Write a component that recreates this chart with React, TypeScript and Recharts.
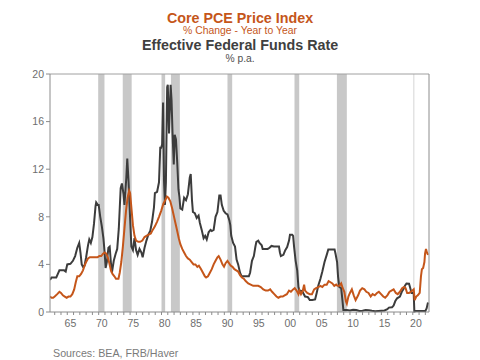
import { LineChart, Line, XAxis, YAxis, ReferenceArea, ReferenceLine } from 'recharts';

// x domain in decimal years (monthly obs sit at year + month/12)
const X_MIN = 1962.25;
const X_MAX = 2022.58;

// Effective Federal Funds Rate, % p.a. [year, value]
const fedFunds: [number, number][] = [
  [1962.25, 2.7], [1962.5, 2.9], [1962.75, 2.9], [1963.0, 2.9], [1963.25, 2.9], [1963.5, 3.2],
  [1963.75, 3.5], [1964.0, 3.5], [1964.5, 3.5], [1964.75, 3.4], [1965.0, 4.0], [1965.5, 4.05],
  [1965.9, 4.3], [1966.25, 4.7], [1966.6, 5.4], [1966.9, 5.8], [1967.1, 5.0], [1967.3, 4.0],
  [1967.5, 3.8], [1967.75, 3.9], [1968.0, 4.6], [1968.3, 5.6], [1968.5, 6.1], [1968.75, 5.8],
  [1969.0, 6.3], [1969.25, 7.4], [1969.5, 8.9], [1969.6, 9.2], [1969.85, 9.0], [1970.0, 9.0],
  [1970.25, 8.0], [1970.5, 7.2], [1970.75, 6.2], [1970.95, 5.0], [1971.1, 3.7], [1971.3, 4.2],
  [1971.55, 5.4], [1971.75, 5.5], [1971.95, 4.1], [1972.1, 3.3], [1972.4, 4.3], [1972.7, 4.9],
  [1972.95, 5.3], [1973.2, 7.0], [1973.5, 10.4], [1973.7, 10.8], [1973.95, 9.9], [1974.1, 9.0],
  [1974.4, 11.3], [1974.55, 12.9], [1974.75, 11.0], [1974.95, 8.5], [1975.2, 5.5], [1975.45, 5.2],
  [1975.7, 6.2], [1975.95, 5.2], [1976.2, 4.8], [1976.5, 5.3], [1976.8, 5.0], [1977.0, 4.6],
  [1977.3, 5.4], [1977.6, 6.0], [1977.9, 6.5], [1978.2, 6.8], [1978.5, 7.6], [1978.8, 8.8],
  [1978.95, 10.0], [1979.3, 10.1], [1979.6, 10.9], [1979.8, 13.8], [1979.95, 13.8], [1980.1, 14.1],
  [1980.25, 17.6], [1980.4, 11.0], [1980.55, 9.0], [1980.7, 10.9], [1980.9, 18.9], [1981.0, 19.1],
  [1981.2, 15.0], [1981.45, 19.1], [1981.6, 17.8], [1981.75, 15.1], [1981.95, 12.4], [1982.1, 14.9],
  [1982.3, 14.5], [1982.5, 12.6], [1982.7, 10.3], [1982.85, 9.7], [1983.0, 8.7], [1983.3, 8.6],
  [1983.6, 9.6], [1983.9, 9.4], [1984.2, 9.9], [1984.5, 11.3], [1984.65, 11.6], [1984.85, 9.4],
  [1985.0, 8.4], [1985.3, 8.3], [1985.6, 7.9], [1985.9, 8.1], [1986.1, 7.5], [1986.4, 6.9],
  [1986.7, 6.2], [1986.95, 6.4], [1987.2, 6.1], [1987.5, 6.7], [1987.8, 6.9], [1988.0, 6.8],
  [1988.3, 6.9], [1988.6, 8.0], [1988.9, 8.4], [1989.2, 9.8], [1989.4, 9.8], [1989.6, 9.0],
  [1989.9, 8.5], [1990.2, 8.3], [1990.5, 8.2], [1990.8, 7.7], [1990.95, 7.3], [1991.1, 6.4],
  [1991.4, 5.8], [1991.7, 5.5], [1991.95, 4.4], [1992.2, 4.0], [1992.5, 3.3], [1992.75, 3.0],
  [1993.0, 3.0], [1993.5, 3.0], [1993.9, 3.0], [1994.1, 3.3], [1994.4, 4.3], [1994.7, 4.7],
  [1994.95, 5.5], [1995.1, 5.9], [1995.4, 6.0], [1995.6, 5.8], [1995.95, 5.6], [1996.1, 5.3],
  [1996.5, 5.3], [1996.9, 5.3], [1997.2, 5.4], [1997.5, 5.55], [1997.9, 5.5], [1998.3, 5.5],
  [1998.7, 5.5], [1998.85, 5.0], [1999.0, 4.7], [1999.4, 4.8], [1999.7, 5.2], [2000.0, 5.45],
  [2000.3, 6.0], [2000.45, 6.5], [2000.8, 6.5], [2000.95, 6.4], [2001.1, 5.5], [2001.35, 4.3],
  [2001.6, 3.5], [2001.8, 2.1], [2001.95, 1.8], [2002.4, 1.75], [2002.85, 1.3], [2003.3, 1.25],
  [2003.6, 1.0], [2004.0, 1.0], [2004.45, 1.05], [2004.7, 1.6], [2004.95, 2.2], [2005.3, 2.8],
  [2005.6, 3.4], [2005.95, 4.2], [2006.3, 4.8], [2006.55, 5.25], [2007.0, 5.25], [2007.55, 5.25],
  [2007.7, 4.9], [2007.95, 4.2], [2008.1, 3.0], [2008.3, 2.1], [2008.6, 2.0], [2008.8, 1.0],
  [2008.95, 0.16], [2009.5, 0.16], [2010.0, 0.12], [2010.5, 0.18], [2011.0, 0.17], [2011.5, 0.08],
  [2012.0, 0.1], [2012.5, 0.16], [2013.0, 0.14], [2013.5, 0.1], [2014.0, 0.07], [2014.5, 0.09],
  [2015.0, 0.11], [2015.5, 0.13], [2015.95, 0.24], [2016.2, 0.37], [2016.7, 0.4], [2016.95, 0.54],
  [2017.2, 0.9], [2017.5, 1.15], [2017.95, 1.3], [2018.25, 1.7], [2018.5, 1.9], [2018.75, 2.2],
  [2019.0, 2.4], [2019.4, 2.38], [2019.55, 2.1], [2019.8, 1.6], [2020.05, 1.6], [2020.15, 1.5],
  [2020.25, 0.05], [2020.5, 0.09], [2021.0, 0.09], [2021.5, 0.08], [2022.0, 0.08], [2022.2, 0.3],
  [2022.42, 0.8],
];

// Core PCE price index, % change year to year [year, value]
const corePce: [number, number][] = [
  [1962.25, 1.3], [1962.5, 1.2], [1962.75, 1.2], [1963.0, 1.3], [1963.4, 1.5], [1963.75, 1.7],
  [1964.0, 1.6], [1964.3, 1.4], [1964.6, 1.3], [1964.9, 1.2], [1965.2, 1.3], [1965.5, 1.3],
  [1965.8, 1.5], [1966.1, 1.9], [1966.35, 2.5], [1966.6, 3.0], [1966.9, 3.0], [1967.2, 3.2],
  [1967.5, 3.5], [1967.75, 3.9], [1968.0, 4.2], [1968.3, 4.5], [1968.6, 4.6], [1968.9, 4.6],
  [1969.2, 4.6], [1969.5, 4.6], [1969.8, 4.6], [1970.1, 4.7], [1970.4, 4.7], [1970.7, 4.9],
  [1970.95, 5.0], [1971.2, 4.9], [1971.45, 4.6], [1971.7, 4.1], [1971.95, 3.5], [1972.2, 3.2],
  [1972.5, 3.0], [1972.75, 2.8], [1972.95, 2.8], [1973.15, 2.8], [1973.35, 3.3], [1973.6, 4.2],
  [1973.85, 5.5], [1974.1, 7.0], [1974.35, 8.5], [1974.6, 9.6], [1974.85, 10.2], [1975.0, 10.0],
  [1975.2, 8.8], [1975.45, 7.3], [1975.7, 6.4], [1975.95, 6.0], [1976.3, 5.9], [1976.6, 5.9],
  [1976.95, 6.0], [1977.3, 6.3], [1977.6, 6.4], [1977.95, 6.5], [1978.3, 6.6], [1978.6, 6.9],
  [1978.95, 7.2], [1979.3, 7.6], [1979.6, 8.0], [1979.95, 8.5], [1980.3, 9.1], [1980.6, 9.4],
  [1980.85, 9.7], [1981.1, 9.6], [1981.4, 9.3], [1981.7, 8.7], [1981.95, 8.1], [1982.25, 7.4],
  [1982.5, 6.8], [1982.75, 6.2], [1983.0, 5.7], [1983.3, 5.3], [1983.6, 5.0], [1983.9, 4.7],
  [1984.2, 4.5], [1984.5, 4.4], [1984.8, 4.2], [1985.1, 4.0], [1985.4, 4.0], [1985.7, 3.8],
  [1985.95, 3.9], [1986.3, 3.6], [1986.6, 3.3], [1986.9, 3.0], [1987.1, 2.9], [1987.4, 3.0],
  [1987.7, 3.3], [1988.0, 3.6], [1988.3, 4.0], [1988.6, 4.3], [1988.9, 4.6], [1989.1, 4.7],
  [1989.4, 4.4], [1989.7, 4.0], [1989.95, 3.8], [1990.2, 4.1], [1990.5, 4.3], [1990.75, 4.1],
  [1991.0, 3.9], [1991.3, 3.8], [1991.6, 3.6], [1991.9, 3.5], [1992.2, 3.4], [1992.5, 3.1],
  [1992.8, 2.9], [1993.1, 2.8], [1993.4, 2.6], [1993.8, 2.4], [1994.2, 2.3], [1994.6, 2.2],
  [1994.95, 2.2], [1995.4, 2.2], [1995.8, 2.1], [1996.2, 1.9], [1996.6, 1.8], [1996.95, 1.8],
  [1997.3, 1.9], [1997.6, 1.7], [1997.95, 1.5], [1998.3, 1.3], [1998.6, 1.2], [1998.95, 1.3],
  [1999.3, 1.3], [1999.6, 1.4], [1999.95, 1.5], [2000.3, 1.8], [2000.6, 1.7], [2000.95, 1.9],
  [2001.2, 2.0], [2001.5, 1.8], [2001.8, 1.5], [2001.95, 1.8], [2002.2, 1.5], [2002.5, 1.8],
  [2002.7, 2.3], [2002.85, 1.8], [2003.2, 1.6], [2003.6, 1.5], [2003.95, 1.5], [2004.3, 1.9],
  [2004.6, 2.0], [2004.95, 2.1], [2005.3, 2.2], [2005.6, 2.1], [2005.95, 2.3], [2006.3, 2.3],
  [2006.6, 2.6], [2006.9, 2.5], [2007.2, 2.4], [2007.5, 2.2], [2007.8, 2.3], [2008.0, 2.2],
  [2008.3, 2.2], [2008.6, 2.4], [2008.85, 2.0], [2009.1, 1.7], [2009.35, 0.9], [2009.5, 0.7],
  [2009.75, 1.3], [2010.0, 1.6], [2010.3, 1.9], [2010.6, 1.4], [2010.9, 1.0], [2011.3, 1.4],
  [2011.6, 1.8], [2011.95, 2.0], [2012.3, 1.9], [2012.6, 1.7], [2012.95, 1.6], [2013.3, 1.3],
  [2013.6, 1.5], [2013.95, 1.4], [2014.3, 1.6], [2014.6, 1.7], [2014.95, 1.5], [2015.3, 1.3],
  [2015.6, 1.2], [2015.95, 1.4], [2016.3, 1.7], [2016.6, 1.8], [2016.95, 1.9], [2017.3, 1.6],
  [2017.6, 1.5], [2017.95, 1.7], [2018.3, 2.0], [2018.6, 2.1], [2018.85, 2.0], [2019.1, 1.6],
  [2019.4, 1.6], [2019.7, 1.7], [2019.95, 1.8], [2020.15, 1.9], [2020.3, 1.0], [2020.55, 1.3],
  [2020.8, 1.4], [2021.1, 1.6], [2021.3, 3.0], [2021.45, 3.6], [2021.65, 3.7], [2021.85, 4.2],
  [2021.95, 4.9], [2022.1, 5.3], [2022.25, 5.0], [2022.42, 4.8],
];

// NBER recessions [start, end]
const recessions: [number, number][] = [
  [1969.92, 1970.92], [1973.83, 1975.25], [1980.0, 1980.58], [1981.5, 1982.92],
  [1990.5, 1991.25], [2001.17, 2001.92], [2007.92, 2009.5], [2020.08, 2020.25],
];

const yTicks = [0, 4, 8, 12, 16, 20];
const labelYears = [1965, 1970, 1975, 1980, 1985, 1990, 1995, 2000, 2005, 2010, 2015, 2020];
const yearTicks = Array.from({ length: 2022 - 1963 + 1 }, (_, i) => 1963 + i);

const PLOT_LEFT = 50;
const PLOT_RIGHT = 51;
const PLOT_W = 480 - PLOT_LEFT - PLOT_RIGHT;
const HALF_YEAR_PX = (0.5 * PLOT_W) / (X_MAX - X_MIN);

const ORANGE = '#c5561a';
const DARK = '#3c3c3c';
const AXIS = '#8c8c8c';
const LABEL = '#6e6e6e';

const toRows = (pts: [number, number][]) => pts.map(([x, y]) => ({ x, y }));

const YearTick = (props: any) => {
  const { x, y, payload } = props;
  const year = payload.value;
  if (!labelYears.includes(year)) return <g />;
  return (
    <text x={x + HALF_YEAR_PX} y={y} dy="0.71em" textAnchor="middle" fill={LABEL} fontSize={10.5}>
      {String(year % 100).padStart(2, '0')}
    </text>
  );
};

export default function App() {
  const tickStyle = { fill: LABEL, fontSize: 10.5 };
  return (
    <div style={{ position: 'absolute', left: 0, top: 0, width: 480, height: 360, background: '#fff', fontFamily: '"Liberation Sans", Arial, sans-serif' }}>
      <LineChart width={480} height={360} margin={{ top: 74, right: 0, bottom: 18, left: 0 }}>
        {recessions.map(([a, b], i) => (
          <ReferenceArea key={i} yAxisId="left" x1={a} x2={b} fill={i === 7 ? '#d8d8d8' : '#c8c8c8'} fillOpacity={1} stroke="none" ifOverflow="hidden" />
        ))}
        <ReferenceLine yAxisId="left" y={20} stroke="#a0a0a0" strokeWidth={1} />
        <XAxis
          dataKey="x"
          type="number"
          domain={[X_MIN, X_MAX]}
          allowDataOverflow
          ticks={yearTicks}
          interval={0}
          height={30}
          stroke={AXIS}
          tickSize={3}
          tickMargin={5}
          tick={YearTick}
        />
        <YAxis yAxisId="left" domain={[0, 20]} ticks={yTicks} width={PLOT_LEFT} stroke={AXIS} tickSize={4} tickMargin={2} tick={tickStyle} interval={0} />
        <YAxis yAxisId="right" orientation="right" domain={[0, 20]} ticks={yTicks} width={PLOT_RIGHT} stroke={AXIS} tickSize={4} tickMargin={3} tick={tickStyle} interval={0} />
        <Line yAxisId="left" data={toRows(fedFunds)} dataKey="y" stroke={DARK} strokeWidth={2} dot={false} isAnimationActive={false} />
        <Line yAxisId="left" data={toRows(corePce)} dataKey="y" stroke={ORANGE} strokeWidth={2} dot={false} isAnimationActive={false} />
      </LineChart>
      <svg width={480} height={360} style={{ position: 'absolute', left: 0, top: 0, pointerEvents: 'none' }}>
        <text x={240} y={23} textAnchor="middle" fill={ORANGE} fontSize={14.3} fontWeight="bold">Core PCE Price Index</text>
        <text x={240} y={33.5} textAnchor="middle" fill={ORANGE} fontSize={10.4}>% Change - Year to Year</text>
        <text x={240} y={50} textAnchor="middle" fill="#404040" fontSize={14.3} fontWeight="bold">Effective Federal Funds Rate</text>
        <text x={240} y={61.5} textAnchor="middle" fill="#505050" fontSize={10.3}>% p.a.</text>
        <text x={53} y={357} fill="#7a7a7a" fontSize={10.7}>Sources:  BEA, FRB/Haver</text>
      </svg>
    </div>
  );
}
